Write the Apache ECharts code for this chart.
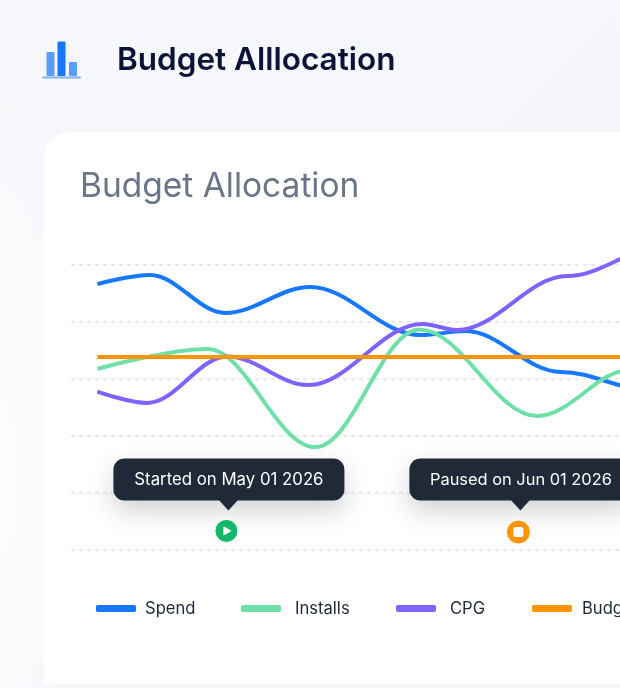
<!DOCTYPE html>
<html>
<head>
<meta charset="utf-8">
<title>Budget Alllocation</title>
<script src="https://cdn.jsdelivr.net/npm/echarts@6/dist/echarts.min.js"></script>
<style>
  html, body { margin: 0; width: 620px; height: 688px; overflow: hidden; }
  body { position: relative; background: radial-gradient(ellipse 90px 420px at 0 70%, #fdfdfe 0%, rgba(253, 253, 254, 0) 100%), linear-gradient(135deg, #f6f8fb 0%, #f3f5f9 100%); }
  #card { position: absolute; left: 44px; top: 132px; width: 640px; height: 552px; background: #fff;
          border-radius: 26px 0 0 0; }
  #logo { position: absolute; left: 42px; top: 41px; }
  #main { position: absolute; left: 0; top: 0; width: 700px; height: 688px; }
</style>
</head>
<body>
<div id="card"></div>
<svg id="logo" width="39" height="38" viewBox="0 0 39 38">
  <rect x="4.5" y="11" width="8" height="24" rx="1" fill="#5b9dff"/>
  <rect x="15.5" y="0.5" width="8" height="34.5" rx="1" fill="#1677ff"/>
  <rect x="27" y="21" width="8" height="14" rx="1" fill="#5b9dff"/>
  <rect x="0" y="35.5" width="39" height="2" rx="1" fill="#7db0ff"/>
</svg>
<div id="main"></div>
<script>
// turning points, x is days from May 01
// the last points lie past the cropped right edge
var spendDays = [-13.7, -8.1, -0.1, 8.9, 20.6, 25.4, 35.5, 45, 50];
var spend = [93.3, 96.5, 83.2, 92.3, 75.4, 76.8, 62.5, 56.1, 54.4];
var installsDays = [-13.7, -2, 9.45, 20.5, 33, 42.9, 50];
var installs = [63.5, 70.5, 36.1, 77.4, 47, 63.2, 64.9];
var cpgDays = [-13.7, -8.4, 0.1, 8.7, 20.8, 24.5, 36.2, 46.1, 50];
var cpg = [55.6, 51.6, 67.9, 57.9, 79.3, 77.2, 96.1, 106, 108.8];
var budgetDays = [-13.7, 50];
var budget = [67.7, 67.7];

var seriesNames = ['Spend', 'Installs', 'CPG', 'Budget'];
var seriesColors = ['#1677ff', '#6fdfa8', '#7f62ff', '#ff9505'];
var seriesDays = [spendDays, installsDays, cpgDays, budgetDays];
var seriesValues = [spend, installs, cpg, budget];

var eventDays = [0, 31];
var eventLevels = [6.7, 6.3];
var eventLabels = ['Started on May 01 2026', 'Paused on Jun 01 2026'];
var eventColors = ['#12b76a', '#ff9505'];

var FONT = 'Inter, Lato, sans-serif';
var chart = echarts.init(document.getElementById('main'));

function renderEvent(params, api) {
  var i = params.dataIndex;
  var p = api.coord([api.value(0), api.value(1)]);
  var color = eventColors[i];
  var boxW = i === 0 ? 231 : 223;
  var boxX = p[0] - (i === 0 ? 113 : 109);
  var boxY = p[1] - (i === 0 ? 72.5 : 73.5);
  var icon = i === 0
    ? { type: 'polygon', shape: { points: [[p[0] - 2.5, p[1] - 4], [p[0] + 4.5, p[1]], [p[0] - 2.5, p[1] + 4]] }, style: { fill: '#fff', lineJoin: 'round', stroke: '#fff', lineWidth: 1 } }
    : { type: 'rect', shape: { x: p[0] - 5, y: p[1] - 5, width: 10, height: 10, r: 2.5 }, style: { fill: '#fff' } };
  return {
    type: 'group',
    children: [
      { type: 'rect', shape: { x: boxX, y: boxY, width: boxW, height: 42, r: 11 },
        style: { fill: '#1f2937', shadowBlur: 26, shadowOffsetY: 10, shadowColor: 'rgba(15, 23, 42, .2)' } },
      { type: 'polygon', shape: { points: [[p[0] - 8, boxY + 41], [p[0] + 12, boxY + 41], [p[0] + 2, boxY + 52]] },
        style: { fill: '#1f2937' } },
      { type: 'text', style: { x: boxX + boxW / 2, y: boxY + 22, text: eventLabels[i], fill: '#fff',
        font: '400 ' + (i === 0 ? 16.8 : 16.4) + 'px ' + FONT, align: 'center', verticalAlign: 'middle' } },
      { type: 'circle', shape: { cx: p[0], cy: p[1], r: i === 0 ? 11.5 : 12 }, style: { fill: color, stroke: '#fff', lineWidth: 1 } },
      icon
    ]
  };
}

var lineSeries = seriesNames.map(function (name, i) {
  return {
    name: name,
    type: 'line',
    smooth: 0.36,
    smoothMonotone: 'x',
    showSymbol: false,
    clip: false,
    data: seriesValues[i].map(function (v, j) { return [seriesDays[i][j], v]; }),
    lineStyle: { width: 4, color: seriesColors[i] },
    itemStyle: { color: seriesColors[i] }
  };
});

// the legend entries are not evenly spaced in the picture, so one legend per series
var legendLefts = [96, 241, 396, 532];
var legendGaps = [4, 9, 9, 5];
var legends = seriesNames.map(function (name, i) {
  return {
    left: legendLefts[i],
    top: 600,
    padding: 0,
    itemWidth: 40,
    itemHeight: 7,
    icon: 'roundRect',
    data: [name],
    textStyle: { fontFamily: FONT, fontSize: 16.6, color: '#1f2937', padding: [0, 0, 0, legendGaps[i]] }
  };
});

chart.setOption({
  animation: false,
  title: [
    { text: 'Budget Alllocation', left: 117, top: 45, padding: 0, textStyle: { fontFamily: FONT, fontSize: 31.5, fontWeight: 600, color: '#0b1437' } },
    { text: 'Budget Allocation', left: 80, top: 170, padding: 0, textStyle: { fontFamily: FONT, fontSize: 33.5, fontWeight: 400, color: '#6b7589' } }
  ],
  legend: legends,
  grid: { left: 71, top: 265, width: 551, height: 285 },
  xAxis: { type: 'value', min: -16.5, max: 42, show: false },
  yAxis: {
    type: 'value',
    min: 0,
    max: 100,
    interval: 20,
    axisLine: { show: false },
    axisTick: { show: false },
    axisLabel: { show: false },
    splitLine: { lineStyle: { type: [4, 4], color: '#e2e3e6', width: 1.5 } }
  },
  series: lineSeries.concat([{
    type: 'custom',
    renderItem: renderEvent,
    clip: false,
    z: 5,
    data: eventDays.map(function (d, i) { return [d, eventLevels[i]]; })
  }])
});
</script>
</body>
</html>
